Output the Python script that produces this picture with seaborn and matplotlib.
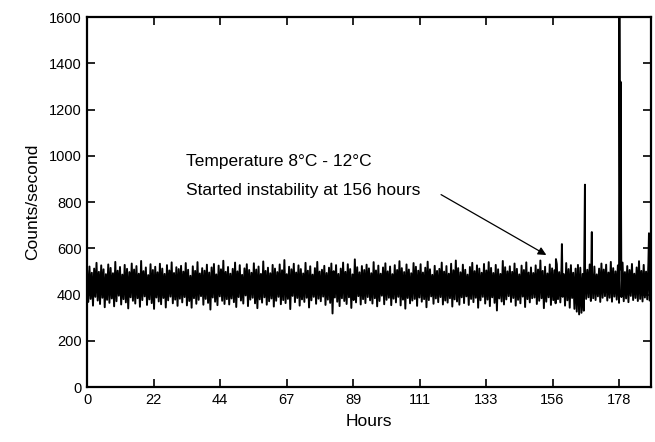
import numpy as np
import pandas as pd
import matplotlib
matplotlib.use("Agg")
import matplotlib.pyplot as plt
import seaborn as sns

# background count rate (counts/second), evenly spaced in time
noise_counts = [
    505, 368, 521, 381, 494, 352, 512, 390, 537, 374, 498, 359, 526, 386, 509, 345, 488, 377, 530, 364,
    515, 383, 492, 349, 541, 371, 503, 395, 519, 357, 486, 380, 528, 366, 511, 340, 497, 388, 534, 373,
    508, 361, 523, 384, 490, 347, 545, 376, 501, 392, 517, 355, 484, 379, 531, 363, 506, 338, 520, 387,
    496, 370, 533, 358, 512, 385, 489, 344, 527, 375, 504, 391, 539, 362, 493, 378, 518, 351, 510, 382,
    524, 366, 499, 389, 536, 353, 507, 372, 481, 343, 522, 384, 502, 360, 540, 377, 491, 393, 514, 356,
    503, 381, 529, 364, 495, 335, 517, 387, 532, 369, 487, 354, 525, 392, 509, 373, 546, 359, 498, 380,
    519, 357, 490, 383, 511, 367, 538, 346, 500, 389, 527, 374, 485, 361, 513, 396, 531, 350, 506, 378,
    494, 386, 535, 362, 508, 341, 521, 379, 489, 365, 543, 388, 502, 356, 516, 371, 492, 383, 528, 348,
    512, 373, 497, 390, 530, 358, 505, 376, 549, 363, 488, 381, 520, 337, 509, 394, 533, 367, 495, 385,
    526, 352, 510, 379, 491, 368, 537, 386, 503, 344, 522, 375, 486, 390, 514, 360, 541, 382, 499, 371,
    507, 391, 524, 355, 493, 378, 516, 364, 534, 318, 501, 387, 527, 369, 489, 350, 512, 384, 538, 372,
    498, 359, 531, 388, 510, 342, 487, 376, 552, 366, 518, 393, 496, 357, 523, 380, 506, 363, 529, 389,
    513, 375, 492, 361, 540, 384, 504, 349, 525, 372, 490, 395, 517, 358, 535, 377, 500, 386, 521, 354,
    488, 382, 527, 366, 506, 390, 544, 353, 514, 378, 497, 339, 530, 385, 508, 362, 492, 374, 536, 381,
    520, 351, 503, 387, 531, 369, 495, 380, 516, 345, 542, 376, 509, 392, 485, 360, 524, 383, 502, 367,
    511, 389, 538, 357, 499, 374, 523, 365, 490, 384, 533, 348, 505, 379, 547, 370, 514, 356, 496, 388,
    529, 363, 507, 392, 486, 355, 519, 381, 537, 367, 501, 386, 526, 343, 512, 375, 494, 390, 532, 361,
    504, 378, 540, 350, 515, 388, 493, 364, 528, 331, 509, 383, 489, 370, 545, 357, 518, 379, 500, 393,
    522, 368, 498, 385, 534, 352, 511, 377, 487, 362, 525, 391, 506, 346, 539, 380, 495, 366, 517, 384,
    493, 387, 526, 359, 508, 373, 547, 384, 502, 341, 520, 369, 491, 388, 530, 355, 513, 376, 505, 362,
    531, 380, 497, 366, 519, 390, 488, 352, 536, 375, 510, 343, 527, 385, 494, 338, 512, 326, 528, 314,
    516, 321, 489, 330, 524, 381, 507, 388, 530, 372, 496, 384, 521, 376, 487, 392, 512, 368, 534, 386,
    508, 393, 529, 374, 495, 386, 541, 369, 514, 391, 500, 378, 526, 364, 509, 389, 538, 371, 497, 383,
    523, 367, 506, 394, 532, 376, 490, 385, 517, 372, 544, 381, 502, 370, 528, 387, 499, 379, 535, 374,
]
hours_start = 0.0
hours_end = 188.0

# spikes after the instability started
spike_hours = [156.7, 158.7, 166.4, 168.7, 177.9, 178.3, 187.8]
spike_counts = [553, 618, 875, 670, 1720, 1320, 665]

x_ticks = [0, 22.22, 44.44, 66.67, 88.89, 111.11, 133.33, 155.56, 177.78]
x_labels = ["0", "22", "44", "67", "89", "111", "133", "156", "178"]
y_ticks = [0, 200, 400, 600, 800, 1000, 1200, 1400, 1600]

noise_hours = np.linspace(hours_start, hours_end, len(noise_counts))
df = pd.DataFrame({
    "hours": np.concatenate([noise_hours, spike_hours]),
    "counts": np.concatenate([noise_counts, spike_counts]),
}).sort_values("hours")

sns.set_style("ticks")
plt.rcParams["font.family"] = ["Liberation Sans", "DejaVu Sans"]
plt.rcParams["text.color"] = "black"
plt.rcParams["axes.labelcolor"] = "black"
plt.rcParams["xtick.color"] = "black"
plt.rcParams["ytick.color"] = "black"
plt.rcParams["axes.edgecolor"] = "black"

fig = plt.figure(figsize=(6.55, 4.42), dpi=100)
ax = fig.add_axes([0.133, 0.1244, 0.861, 0.8371])

sns.lineplot(data=df, x="hours", y="counts", ax=ax, color="black",
             linewidth=1.4, estimator=None, sort=False)

ax.set_xlim(0, 188.5)
ax.set_ylim(0, 1600)
ax.set_xticks(x_ticks)
ax.set_xticklabels(x_labels)
ax.set_yticks(y_ticks)
ax.tick_params(direction="in", length=6, width=1.2, labelsize=10.5,
               top=True, right=True, pad=4)
for s in ax.spines.values():
    s.set_linewidth(1.6)
    s.set_visible(True)

ax.set_xlabel("Hours", fontsize=12.5, labelpad=5)
ax.set_ylabel("Counts/second", fontsize=12.5, labelpad=6)

ax.text(33, 975, "Temperature 8°C - 12°C", fontsize=12.5, va="center")
ax.text(33, 850, "Started instability at 156 hours", fontsize=12.5, va="center")
ax.annotate("", xy=(154.3, 565), xytext=(117.5, 838),
            arrowprops=dict(arrowstyle="-|>", color="black", lw=0.9,
                            mutation_scale=12))

fig.savefig("out.png", dpi=100)
